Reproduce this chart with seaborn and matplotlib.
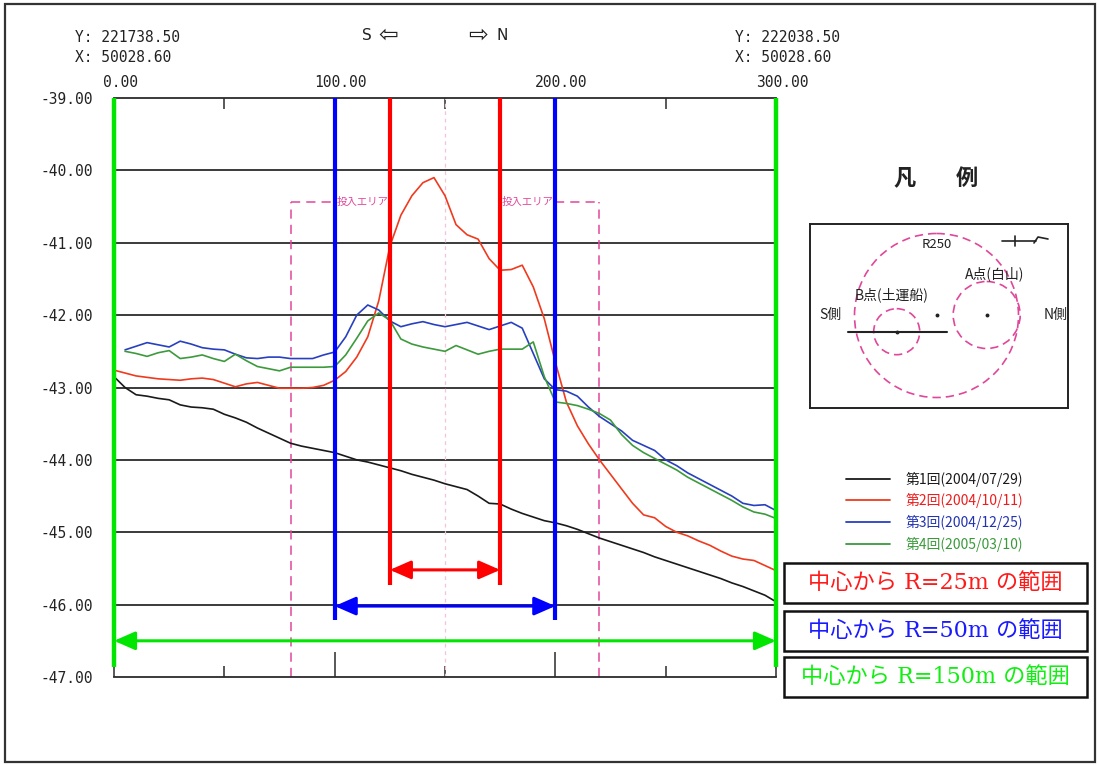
import numpy as np
import pandas as pd
import seaborn as sns
import matplotlib
matplotlib.use("Agg")
import matplotlib.pyplot as plt
from matplotlib.patches import Circle, Rectangle
from matplotlib.transforms import ScaledTranslation

# ---------------- data ----------------
x_full = list(range(0, 305, 5))        # 0 .. 300 step 5
x_from5 = list(range(5, 305, 5))       # 5 .. 300 step 5

black_1 = [-42.85, -43.00, -43.10, -43.12, -43.15, -43.17, -43.24, -43.27, -43.28, -43.30,
           -43.37, -43.42, -43.48, -43.56, -43.63, -43.70, -43.77, -43.81, -43.84, -43.87,
           -43.90, -43.95, -44.00, -44.03, -44.07, -44.11, -44.15, -44.20, -44.24, -44.28,
           -44.33, -44.37, -44.41, -44.50, -44.60, -44.61, -44.68, -44.74, -44.79, -44.84,
           -44.87, -44.91, -44.96, -45.02, -45.08, -45.13, -45.18, -45.23, -45.28, -45.34,
           -45.39, -45.44, -45.49, -45.54, -45.59, -45.64, -45.70, -45.75, -45.81, -45.87,
           -45.96]
red_2 = [-42.76, -42.80, -42.84, -42.86, -42.88, -42.89, -42.90, -42.88, -42.87, -42.89,
         -42.94, -42.99, -42.95, -42.93, -42.97, -43.01, -43.01, -43.01, -43.00, -42.97,
         -42.90, -42.78, -42.58, -42.30, -41.80, -41.05, -40.62, -40.35, -40.17, -40.10,
         -40.35, -40.75, -40.89, -40.95, -41.22, -41.38, -41.37, -41.31, -41.61, -42.05,
         -42.65, -43.20, -43.53, -43.78, -44.00, -44.20, -44.40, -44.60, -44.76, -44.80,
         -44.92, -45.00, -45.05, -45.12, -45.18, -45.26, -45.33, -45.37, -45.39, -45.46,
         -45.53]
blue_3 = [-42.48, -42.43, -42.38, -42.41, -42.44, -42.36, -42.40, -42.45, -42.47,
          -42.48, -42.54, -42.59, -42.60, -42.58, -42.58, -42.60, -42.60, -42.60, -42.55,
          -42.51, -42.30, -42.00, -41.86, -41.93, -42.08, -42.16, -42.12, -42.09, -42.13,
          -42.16, -42.13, -42.10, -42.15, -42.20, -42.15, -42.10, -42.18, -42.53, -42.88,
          -43.03, -43.05, -43.12, -43.27, -43.40, -43.50, -43.60, -43.73, -43.80, -43.87,
          -44.00, -44.08, -44.18, -44.26, -44.34, -44.42, -44.50, -44.60, -44.63, -44.62,
          -44.70]
green_4 = [-42.50, -42.53, -42.57, -42.52, -42.49, -42.60, -42.58, -42.55, -42.60,
           -42.64, -42.54, -42.63, -42.71, -42.74, -42.77, -42.72, -42.72, -42.72, -42.72,
           -42.71, -42.55, -42.32, -42.08, -41.97, -42.07, -42.33, -42.40, -42.44, -42.47,
           -42.50, -42.42, -42.48, -42.54, -42.50, -42.47, -42.47, -42.47, -42.37, -42.85,
           -43.20, -43.22, -43.25, -43.30, -43.36, -43.45, -43.65, -43.80, -43.90, -43.98,
           -44.06, -44.14, -44.24, -44.32, -44.40, -44.48, -44.56, -44.65, -44.72, -44.75,
           -44.81]

series_names = ["第1回(2004/07/29)", "第2回(2004/10/11)", "第3回(2004/12/25)", "第4回(2005/03/10)"]
series_colors = ["#1a1a1a", "#f03a1e", "#2840c0", "#3c9a3c"]
legend_text_colors = ["#1a1a1a", "#ee1c1c", "#2233b0", "#3a9a3a"]

x_tick_vals = [0, 100, 200, 300]
x_tick_labels = ["0.00", "100.00", "200.00", "300.00"]
y_tick_vals = [-39, -40, -41, -42, -43, -44, -45, -46, -47]
y_tick_labels = ["-39.00", "-40.00", "-41.00", "-42.00", "-43.00", "-44.00", "-45.00", "-46.00", "-47.00"]

range_labels = ["中心から R=25m の範囲", "中心から R=50m の範囲", "中心から R=150m の範囲"]
range_colors = ["#ff1a1a", "#1a1aff", "#11ee11"]

df = pd.concat([
    pd.DataFrame({"x": x_full, "z": black_1, "s": series_names[0]}),
    pd.DataFrame({"x": x_full, "z": red_2, "s": series_names[1]}),
    pd.DataFrame({"x": x_from5, "z": blue_3, "s": series_names[2]}),
    pd.DataFrame({"x": x_from5, "z": green_4, "s": series_names[3]}),
], ignore_index=True)

# ---------------- style ----------------
sns.set_theme(style="white")
plt.rcParams['font.family'] = ['Noto Sans CJK JP', 'DejaVu Sans']

W, H = 1099, 765
fig = plt.figure(figsize=(W / 100, H / 100), dpi=100)
fig.patch.set_facecolor("white")

def P(px, py):
    return px / W, 1 - py / H

mono = "DejaVu Sans Mono"

ax = fig.add_axes([114 / W, 1 - 677 / H, 662 / W, 579 / H])
ax.set_facecolor("white")

sns.lineplot(data=df, x="x", y="z", hue="s", palette=dict(zip(series_names, series_colors)),
             estimator=None, sort=False, legend=False, lw=1.2, ax=ax, zorder=5)

ax.set_xlim(0, 300)
ax.set_ylim(-47, -39)
ax.set_xlabel("")
ax.set_ylabel("")

# grid
for yv in y_tick_vals[1:-1]:
    ax.axhline(yv, color="#2b2b2b", lw=1.3, zorder=1)
for side in ["left", "right"]:
    ax.spines[side].set_visible(False)
for side in ["top", "bottom"]:
    ax.spines[side].set_color("#2b2b2b")
    ax.spines[side].set_linewidth(1.3)

# ticks
ax.set_xticks(x_tick_vals)
ax.set_xticklabels(x_tick_labels, fontfamily=mono, fontsize=10.5, color="#222")
ax.set_xticks([50, 150, 250], minor=True)
ax.tick_params(axis="x", which="major", direction="in", length=18, width=1.1, color="#2b2b2b",
               top=True, bottom=True, labeltop=True, labelbottom=False, pad=6)
ax.tick_params(axis="x", which="minor", direction="in", length=8, width=1.1, color="#2b2b2b",
               top=True, bottom=True)
for lab in ax.get_xticklabels():
    lab.set_transform(lab.get_transform() + ScaledTranslation(0.06, 0.0, fig.dpi_scale_trans))
ax.set_yticks(y_tick_vals)
ax.set_yticklabels(y_tick_labels, fontfamily=mono, fontsize=10.5, color="#222")
ax.tick_params(axis="y", length=0, pad=15)

# pink input area
pink = "#e0479a"
y_area = -40.44
ax.vlines([80, 220], -47, y_area, colors=pink, lw=1.1, linestyles=(0, (6, 4)), zorder=2)
ax.hlines(y_area, 80, 100, colors=pink, lw=1.1, linestyles=(0, (6, 4)), zorder=2)
ax.hlines(y_area, 200, 220, colors=pink, lw=1.1, linestyles=(0, (6, 4)), zorder=2)
ax.text(101, y_area, "投入エリア", color=pink, fontsize=7.5, ha="left", va="center", zorder=3)
ax.text(199, y_area, "投入エリア", color=pink, fontsize=7.5, ha="right", va="center", zorder=3)
ax.axvline(150, color="#f2c4dc", lw=0.9, ls=(0, (3, 3)), zorder=1)

# range lines
ax.vlines([0, 300], -46.86, -39, colors="#00e600", lw=3.2, zorder=8, clip_on=False)
ax.vlines([100, 200], -46.21, -39, colors="#0000ff", lw=3.0, zorder=8, clip_on=False)
ax.vlines([125, 175], -45.73, -39, colors="#ff0000", lw=3.0, zorder=8, clip_on=False)

def darrow(x0, x1, y, c):
    ax.annotate("", xy=(x0, y), xytext=(x1, y),
                arrowprops=dict(arrowstyle="<|-|>,head_length=0.8,head_width=0.35",
                                color=c, lw=2.2, mutation_scale=16, shrinkA=0, shrinkB=0),
                zorder=9, annotation_clip=False)

darrow(125, 175, -45.52, "#ff0000")
darrow(100, 200, -46.02, "#0000ff")
darrow(0, 300, -46.50, "#00e600")

# header texts
fig.text(*P(75, 38), "Y: 221738.50", fontfamily=mono, fontsize=10.5, va="center", ha="left", color="#222")
fig.text(*P(75, 57), "X: 50028.60", fontfamily=mono, fontsize=10.5, va="center", ha="left", color="#222")
fig.text(*P(735, 38), "Y: 222038.50", fontfamily=mono, fontsize=10.5, va="center", ha="left", color="#222")
fig.text(*P(735, 57), "X: 50028.60", fontfamily=mono, fontsize=10.5, va="center", ha="left", color="#222")
fig.text(*P(362, 35), "S", fontfamily="DejaVu Sans", fontsize=11, va="center", ha="left", color="#222")
fig.text(*P(378, 35), "⇦", fontfamily="DejaVu Sans", fontsize=17, va="center", ha="left", color="#222")
fig.text(*P(468, 35), "⇨", fontfamily="DejaVu Sans", fontsize=17, va="center", ha="left", color="#222")
fig.text(*P(497, 35), "N", fontfamily="DejaVu Sans", fontsize=11, va="center", ha="left", color="#222")

# legend title
fig.text(*P(905, 178), "凡", fontsize=16, fontweight="bold", ha="center", va="center", color="#222")
fig.text(*P(967, 178), "例", fontsize=16, fontweight="bold", ha="center", va="center", color="#222")

# legend entries
ly = [479, 500, 522, 544]
for name, lc, tc, yy in zip(series_names, series_colors, legend_text_colors, ly):
    fig.add_artist(plt.Line2D([846 / W, 890 / W], [1 - yy / H, 1 - yy / H], color=lc, lw=1.3))
    fig.text(*P(906, yy), name, fontsize=10, color=tc, ha="left", va="center")

# range boxes
boxes = [(784, 563, 603), (784, 611, 651), (784, 657, 697)]
for (bx, by0, by1), lab, c in zip(boxes, range_labels, range_colors):
    fx0, fy1 = P(bx, by1)
    fig.add_artist(Rectangle((fx0, fy1), (1087 - bx) / W, (by1 - by0) / H, transform=fig.transFigure,
                             fill=True, facecolor="white", edgecolor="#111", lw=1.8))
    fig.text(*P(935, (by0 + by1) / 2), lab, fontsize=16, color=c, ha="center", va="center",
             family=["DejaVu Serif", "Noto Sans CJK JP"])

# inset diagram
ax2 = fig.add_axes([810 / W, 1 - 408 / H, 258 / W, 184 / H])
ax2.set_xlim(810, 1068)
ax2.set_ylim(408, 224)
ax2.set_xticks([])
ax2.set_yticks([])
ax2.set_facecolor("white")
for s in ax2.spines.values():
    s.set_color("#222")
    s.set_linewidth(1.4)
dpink = "#e0479a"
ax2.add_patch(Circle((936.5, 315.5), 82, fill=False, ec=dpink, lw=1.2, ls=(0, (5, 3))))
ax2.add_patch(Circle((986.7, 315), 33.5, fill=False, ec=dpink, lw=1.2, ls=(0, (5, 3))))
ax2.add_patch(Circle((896.7, 331.7), 23, fill=False, ec=dpink, lw=1.2, ls=(0, (5, 3))))
ax2.plot([847.7, 946.7], [331.7, 331.7], color="#222", lw=1.5)
ax2.plot([936.7, 986.7, 896.7], [315, 315, 331.7], ls="none", marker="o", ms=1.8, color="#222")
ax2.text(936.7, 245, "R250", fontsize=9.5, ha="center", va="center", color="#222")
ax2.text(995, 274, "A点(白山)", fontsize=10, ha="center", va="center", color="#222")
ax2.text(891.7, 295, "B点(土運船)", fontsize=10, ha="center", va="center", color="#222")
ax2.text(830.7, 315, "S側", fontsize=10, ha="center", va="center", color="#222")
ax2.text(1056, 315, "N側", fontsize=10, ha="center", va="center", color="#222")
ax2.plot([1002, 1036], [241, 241], color="#222", lw=1.2)
ax2.plot([1015, 1015], [236, 246], color="#222", lw=1.2)
ax2.plot([1034, 1038, 1048], [243, 237, 239], color="#222", lw=1.2)

# outer frame
fig.add_artist(Rectangle((5 / W, 1 - 762 / H), 1090 / W, 758 / H, transform=fig.transFigure,
                         fill=False, edgecolor="#333", lw=1.6))

fig.savefig("out.png", dpi=100, facecolor="white")
